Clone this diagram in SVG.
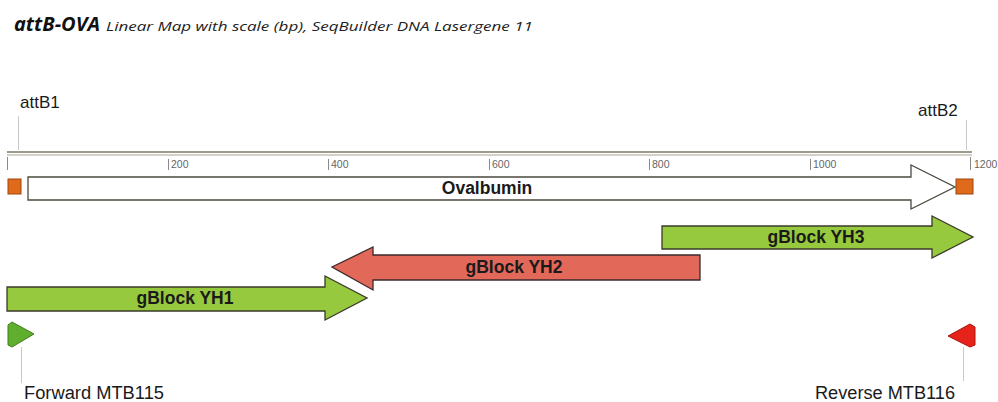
<svg xmlns="http://www.w3.org/2000/svg" width="998" height="402" viewBox="0 0 998 402">
  <style>
    .lbl { font-family: "Liberation Sans", Arial, sans-serif; font-size: 17px; fill: #1a1a1a; }
    .prm { font-family: "Liberation Sans", Arial, sans-serif; font-size: 18px; fill: #1a1a1a; }
    .feat { font-family: "Liberation Sans", Arial, sans-serif; font-size: 17.5px; font-weight: bold; fill: #1a1a1a; text-anchor: middle; }
    .tick { font-family: "Liberation Sans", Arial, sans-serif; font-size: 10.5px; fill: #666; }
    .tk { stroke: #8a8a8a; stroke-width: 1; }
    .lead { stroke: #c8c8c8; stroke-width: 1; }
    .green { fill: #97c93e; stroke: #3a3a2a; stroke-width: 1.3; }
    .red { fill: #e2685a; stroke: #3a2a2a; stroke-width: 1.3; }
    .site { fill: #e06a1c; stroke: #a0460e; stroke-width: 1; }
  </style>

  <rect width="998" height="402" fill="#ffffff"/>

  <!-- heading -->
  <g id="title">
    <text x="14" y="31" font-family="'Open Sans', 'Noto Sans', sans-serif" font-size="20" font-weight="bold" font-style="italic" fill="#111" textLength="86" lengthAdjust="spacingAndGlyphs">attB-OVA</text>
    <text x="106" y="31" font-family="'Open Sans', 'Noto Sans', sans-serif" font-size="13" font-style="italic" fill="#222" textLength="427" lengthAdjust="spacingAndGlyphs">Linear Map with scale (bp),  SeqBuilder DNA Lasergene 11</text>
  </g>

  <!-- scale ruler -->
  <g id="ruler">
    <line x1="7" y1="152" x2="972" y2="152" stroke="#7d7a68" stroke-width="1.5"/>
    <line x1="7" y1="155" x2="972" y2="155" stroke="#a9a590" stroke-width="1.2"/>
    <line class="tk" x1="7.5" y1="157" x2="7.5" y2="170"/>
    <line class="tk" x1="168.5" y1="159" x2="168.5" y2="170"/>
    <line class="tk" x1="328.5" y1="159" x2="328.5" y2="170"/>
    <line class="tk" x1="489.5" y1="159" x2="489.5" y2="170"/>
    <line class="tk" x1="649.5" y1="159" x2="649.5" y2="170"/>
    <line class="tk" x1="810.5" y1="159" x2="810.5" y2="170"/>
    <line class="tk" x1="970.5" y1="157" x2="970.5" y2="170"/>
    <text class="tick" x="171" y="168">200</text>
    <text class="tick" x="331" y="168">400</text>
    <text class="tick" x="492" y="168">600</text>
    <text class="tick" x="652" y="168">800</text>
    <text class="tick" x="813" y="168">1000</text>
    <text class="tick" x="974" y="168">1200</text>
  </g>

  <!-- recombination sites -->
  <g id="attB1">
    <line class="lead" x1="18.5" y1="116" x2="18.5" y2="150"/>
    <text class="lbl" x="20" y="108">attB1</text>
    <rect class="site" x="8" y="179" width="13" height="15"/>
  </g>
  <g id="attB2">
    <line class="lead" x1="966.5" y1="120" x2="966.5" y2="150"/>
    <text class="lbl" x="918" y="116">attB2</text>
    <rect class="site" x="956" y="179" width="17" height="15"/>
  </g>

  <!-- features -->
  <g id="ovalbumin">
    <polygon points="28,177 911,177 911,165 955,187 911,209 911,200 28,200" fill="#ffffff" stroke="#4a4a40" stroke-width="1.3"/>
    <text class="feat" x="487" y="194">Ovalbumin</text>
  </g>
  <g id="gblock-yh3">
    <polygon class="green" points="662,226 932,226 932,216 973,237 932,258 932,249 662,249"/>
    <text class="feat" x="816" y="243">gBlock YH3</text>
  </g>
  <g id="gblock-yh2">
    <polygon class="red" points="700,255 373,255 373,247 332,267 373,290 373,280 700,280"/>
    <text class="feat" x="514" y="273">gBlock YH2</text>
  </g>
  <g id="gblock-yh1">
    <polygon class="green" points="7,287 325,287 325,276 367,298 325,320 325,311 7,311"/>
    <text class="feat" x="185" y="304">gBlock YH1</text>
  </g>

  <!-- primers -->
  <g id="forward-mtb115">
    <line class="lead" x1="21.5" y1="347" x2="21.5" y2="383"/>
    <polygon points="8,325 12,322 34,334 12,347 8,345" fill="#5fae2e" stroke="#3f7f1c" stroke-width="1"/>
    <text class="prm" x="24" y="399" textLength="140" lengthAdjust="spacingAndGlyphs">Forward MTB115</text>
  </g>
  <g id="reverse-mtb116">
    <line class="lead" x1="963.5" y1="347" x2="963.5" y2="381"/>
    <polygon points="948,336 970,324 975,327 975,345 970,347" fill="#e5231b" stroke="#a8140e" stroke-width="1"/>
    <text class="prm" x="815" y="399" textLength="140" lengthAdjust="spacingAndGlyphs">Reverse MTB116</text>
  </g>
</svg>
